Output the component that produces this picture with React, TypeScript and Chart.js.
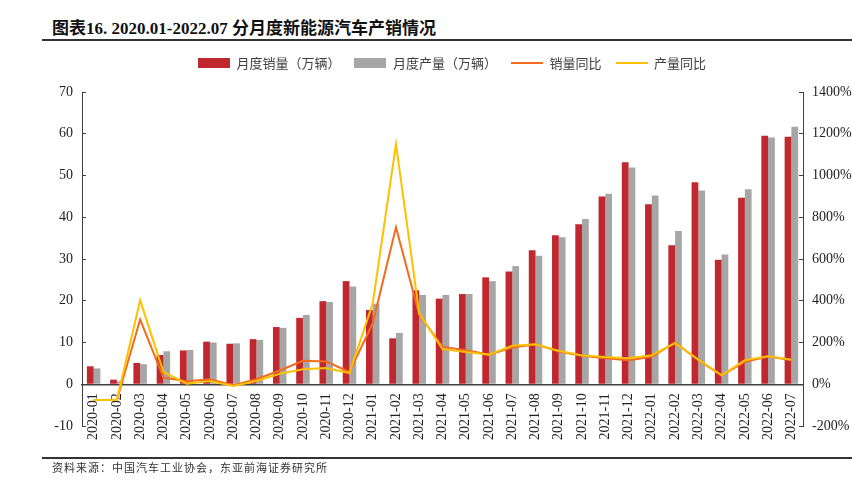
import React, { useEffect, useRef } from 'react';
import { Chart, registerables } from 'chart.js';

Chart.register(...registerables);

const months = [
  '2020-01', '2020-02', '2020-03', '2020-04', '2020-05', '2020-06', '2020-07', '2020-08', '2020-09', '2020-10', '2020-11', '2020-12',
  '2021-01', '2021-02', '2021-03', '2021-04', '2021-05', '2021-06', '2021-07', '2021-08', '2021-09', '2021-10', '2021-11', '2021-12',
  '2022-01', '2022-02', '2022-03', '2022-04', '2022-05', '2022-06', '2022-07',
];

const monthlySales = [
  4.3, 1.1, 5.1, 7.0, 8.1, 10.2, 9.7, 10.8, 13.7, 15.9, 19.9, 24.7,
  17.8, 11.0, 22.5, 20.5, 21.6, 25.6, 27.0, 32.1, 35.7, 38.3, 45.0, 53.2,
  43.1, 33.3, 48.4, 29.8, 44.7, 59.5, 59.3,
];

const monthlyProduction = [
  3.8, 0.7, 4.8, 7.9, 8.2, 10.0, 9.8, 10.6, 13.5, 16.6, 19.7, 23.4,
  19.3, 12.3, 21.4, 21.4, 21.6, 24.7, 28.3, 30.8, 35.2, 39.6, 45.6, 51.9,
  45.2, 36.7, 46.4, 31.1, 46.7, 59.1, 61.7,
];

const salesYoY = [
  -75, -75, 310, 32, 14, 24, -5, 24, 66, 112, 109, 59,
  292, 752, 333, 180, 163, 142, 176, 192, 157, 136, 125, 115,
  131, 200, 115, 43, 107, 134, 115,
];

const productionYoY = [
  -75, -75, 402, 59, 3, 16, -8, 16, 50, 72, 78, 54,
  387, 1150, 340, 168, 155, 142, 184, 192, 160, 138, 130, 125,
  139, 197, 118, 43, 115, 134, 118,
];

const seriesNames = ['月度销量（万辆）', '月度产量（万辆）', '销量同比', '产量同比'];
const leftAxisRange = [-10, 70, 10];
const rightAxisRange = [-200, 1400, 200];

const TITLE = '图表16. 2020.01-2022.07 分月度新能源汽车产销情况';
const SOURCE = '资料来源：中国汽车工业协会，东亚前海证券研究所';

const RED = '#C1272F';
const GRAY = '#A6A6A6';
const ORANGE = '#F36B1C';
const YELLOW = '#FFC000';
const AXIS = '#404040';
const SERIF = "'Liberation Serif', 'Noto Sans CJK SC', serif";
const CJK = "'Noto Sans CJK SC', sans-serif";

function makeSwatch(color: string, kind: 'bar' | 'line'): HTMLCanvasElement {
  const c = document.createElement('canvas');
  c.width = 32;
  c.height = 10;
  const g = c.getContext('2d')!;
  if (kind === 'bar') {
    g.fillStyle = color;
    g.fillRect(0, 0, 32, 10);
  } else {
    g.strokeStyle = color;
    g.lineWidth = 2;
    g.beginPath();
    g.moveTo(0, 5);
    g.lineTo(32, 5);
    g.stroke();
  }
  return c;
}

export default function App() {
  const canvasRef = useRef<HTMLCanvasElement | null>(null);

  useEffect(() => {
    if (!canvasRef.current) return;
    const swatches = [
      makeSwatch(RED, 'bar'),
      makeSwatch(GRAY, 'bar'),
      makeSwatch(ORANGE, 'line'),
      makeSwatch(YELLOW, 'line'),
    ];

    const chart = new Chart(canvasRef.current, {
      type: 'bar',
      data: {
        labels: months,
        datasets: [
          {
            type: 'bar',
            label: seriesNames[0],
            data: monthlySales,
            backgroundColor: RED,
            yAxisID: 'y',
            order: 2,
            categoryPercentage: 0.58,
            barPercentage: 1.0,
          },
          {
            type: 'bar',
            label: seriesNames[1],
            data: monthlyProduction,
            backgroundColor: GRAY,
            yAxisID: 'y',
            order: 3,
            categoryPercentage: 0.58,
            barPercentage: 1.0,
          },
          {
            type: 'line',
            label: seriesNames[2],
            data: salesYoY,
            borderColor: ORANGE,
            backgroundColor: ORANGE,
            borderWidth: 2,
            pointRadius: 0,
            tension: 0,
            fill: false,
            yAxisID: 'y1',
            order: 1,
          },
          {
            type: 'line',
            label: seriesNames[3],
            data: productionYoY,
            borderColor: YELLOW,
            backgroundColor: YELLOW,
            borderWidth: 2,
            pointRadius: 0,
            tension: 0,
            fill: false,
            yAxisID: 'y1',
            order: 0,
          },
        ] as any,
      },
      options: {
        animation: false,
        responsive: false,
        maintainAspectRatio: false,
        layout: { padding: { top: 42.5, left: 52, right: 0, bottom: 59 } },
        plugins: {
          tooltip: { enabled: false },
          title: { display: false },
          legend: {
            display: true,
            position: 'top',
            labels: {
              usePointStyle: true,
              pointStyleWidth: 32,
              boxHeight: 10,
              padding: 14,
              color: AXIS,
              font: { family: CJK, size: 13 },
              generateLabels: (ch: any) =>
                ch.data.datasets.map((ds: any, i: number) => ({
                  text: ds.label,
                  pointStyle: swatches[i],
                  datasetIndex: i,
                  hidden: false,
                  fillStyle: ds.backgroundColor,
                  strokeStyle: ds.borderColor,
                  lineWidth: 0,
                  fontColor: AXIS,
                })),
            },
          },
        },
        scales: {
          x: {
            type: 'category',
            position: { y: 0 } as any,
            offset: true,
            grid: { display: false, drawTicks: false },
            border: { display: true, color: AXIS, width: 1.5 },
            ticks: {
              minRotation: 90,
              maxRotation: 90,
              autoSkip: false,
              padding: 9,
              color: '#222',
              font: { family: SERIF, size: 14 },
            },
          },
          xTop: {
            type: 'category',
            position: 'top',
            display: true,
            grid: { display: false, drawTicks: false },
            border: { display: false },
            ticks: { display: false },
            afterFit: (s: any) => {
              s.height = 12.5;
            },
          },
          y: {
            type: 'linear',
            position: 'left',
            min: leftAxisRange[0],
            max: leftAxisRange[1],
            ticks: {
              stepSize: leftAxisRange[2],
              padding: 13,
              color: '#222',
              font: { family: SERIF, size: 14 },
            },
            grid: {
              display: true,
              drawOnChartArea: false,
              drawTicks: true,
              tickLength: -4,
              color: AXIS,
            },
            border: { display: true, color: AXIS, width: 1 },
            afterFit: (s: any) => {
              s.width = 30;
            },
          },
          y1: {
            type: 'linear',
            position: 'right',
            min: rightAxisRange[0],
            max: rightAxisRange[1],
            ticks: {
              stepSize: rightAxisRange[2],
              padding: 13,
              color: '#222',
              font: { family: SERIF, size: 14 },
              callback: (v: any) => `${v}%`,
            },
            grid: {
              display: true,
              drawOnChartArea: false,
              drawTicks: true,
              tickLength: -4,
              color: AXIS,
            },
            border: { display: true, color: AXIS, width: 1 },
            afterFit: (s: any) => {
              s.width = 49;
            },
          },
        },
      } as any,
    });

    return () => {
      chart.destroy();
    };
  }, []);

  return (
    <div
      style={{
        position: 'fixed',
        left: 0,
        top: 0,
        width: 852,
        height: 485,
        background: '#fff',
        overflow: 'hidden',
      }}
    >
      <div
        style={{
          position: 'absolute',
          left: 52,
          top: 19,
          fontFamily: SERIF,
          fontWeight: 'bold',
          fontSize: 17,
          lineHeight: '20px',
          color: '#111',
          whiteSpace: 'nowrap',
        }}
      >
        {TITLE}
      </div>
      <div style={{ position: 'absolute', left: 42, top: 39, width: 810, height: 2, background: '#333' }} />
      <canvas
        ref={canvasRef}
        width={852}
        height={485}
        style={{ position: 'absolute', left: 0, top: 0, display: 'block' }}
      />
      <div style={{ position: 'absolute', left: 42, top: 457, width: 810, height: 2, background: '#333' }} />
      <div
        style={{
          position: 'absolute',
          left: 52,
          top: 460,
          fontFamily: CJK,
          fontSize: 11,
          lineHeight: '14px',
          letterSpacing: '1px',
          color: '#333',
          whiteSpace: 'nowrap',
        }}
      >
        {SOURCE}
      </div>
    </div>
  );
}
